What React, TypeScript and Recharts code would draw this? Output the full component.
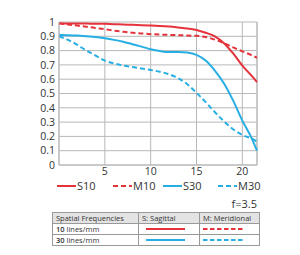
import { LineChart, Line, XAxis, YAxis, CartesianGrid, ReferenceLine } from 'recharts'

const field = [0, 1, 2, 3, 4, 5, 6, 7, 8, 9, 10, 11, 12, 13, 14, 15, 16, 17, 18, 19, 20, 21, 21.6]
const s10 = [0.99, 0.99, 0.99, 0.989, 0.988, 0.987, 0.985, 0.983, 0.98, 0.978, 0.975, 0.972, 0.968, 0.962, 0.955, 0.944, 0.925, 0.9, 0.852, 0.78, 0.695, 0.625, 0.58]
const m10 = [0.99, 0.983, 0.975, 0.967, 0.958, 0.95, 0.94, 0.932, 0.925, 0.92, 0.915, 0.912, 0.91, 0.908, 0.905, 0.903, 0.895, 0.877, 0.852, 0.822, 0.795, 0.768, 0.75]
const s30 = [0.91, 0.908, 0.905, 0.9, 0.895, 0.886, 0.875, 0.862, 0.845, 0.828, 0.81, 0.797, 0.79, 0.79, 0.786, 0.77, 0.73, 0.66, 0.57, 0.45, 0.31, 0.19, 0.1]
const m30 = [0.9, 0.875, 0.84, 0.8, 0.765, 0.73, 0.71, 0.695, 0.685, 0.675, 0.665, 0.652, 0.635, 0.607, 0.565, 0.505, 0.44, 0.37, 0.305, 0.25, 0.21, 0.185, 0.165]

const xTicks = [5, 10, 15, 20]
const yTicks = [0, 0.1, 0.2, 0.3, 0.4, 0.5, 0.6, 0.7, 0.8, 0.9, 1]
const xMax = 21.6

const RED = '#e5333b'
const BLUE = '#27aee3'
const GRID = '#b8b8b8'
const TEXT = '#333'

const series = [
  { key: 's10', name: 'S10', color: RED, dash: undefined },
  { key: 'm10', name: 'M10', color: RED, dash: '5 3' },
  { key: 's30', name: 'S30', color: BLUE, dash: undefined },
  { key: 'm30', name: 'M30', color: BLUE, dash: '5 3' },
]

const data = field.map((x, i) => ({ x, s10: s10[i], m10: m10[i], s30: s30[i], m30: m30[i] }))

const font = '"Open Sans", sans-serif'

function Swatch({ color, dash, w }: { color: string; dash?: string; w: number }) {
  return (
    <svg width={w} height={4} style={{ display: 'block' }}>
      <line x1={0} y1={2} x2={w} y2={2} stroke={color} strokeWidth={2} strokeDasharray={dash} />
    </svg>
  )
}

const legendX = [57, 113, 163, 218]

const cell: React.CSSProperties = { border: '1px solid #999', padding: '0 3px', height: 10, lineHeight: '10px' }

export default function App() {
  return (
    <div style={{ position: 'absolute', left: 0, top: 0, width: 300, height: 255, background: '#fff', fontFamily: font, color: TEXT }}>
      <LineChart width={300} height={200} data={data} margin={{ top: 22, right: 43, left: 0, bottom: 0 }}>
        <CartesianGrid stroke={GRID} strokeWidth={1} />
        <XAxis
          dataKey="x" type="number" domain={[0, xMax]} ticks={xTicks} height={35} interval={0}
          axisLine={{ stroke: GRID }} tickLine={false} tickSize={0} tickMargin={3}
          tick={{ fontSize: 10.5, fill: TEXT, fontFamily: font }}
        />
        <YAxis
          type="number" domain={[0, 1]} ticks={yTicks} width={59} interval={0}
          axisLine={{ stroke: GRID }} tickLine={false} tickSize={0} tickMargin={4}
          tick={{ fontSize: 10.5, fill: TEXT, fontFamily: font }}
          tickFormatter={(v: number) => String(+v.toFixed(1))}
        />
        <ReferenceLine x={xMax} stroke={GRID} />
        {series.map((s) => (
          <Line key={s.key} type="monotone" dataKey={s.key} stroke={s.color} strokeWidth={2}
            strokeDasharray={s.dash} dot={false} isAnimationActive={false} />
        ))}
      </LineChart>

      {series.map((s, i) => (
        <div key={s.key} style={{ position: 'absolute', left: legendX[i], top: 178, display: 'flex', alignItems: 'center', fontSize: 11 }}>
          <Swatch color={s.color} dash={s.dash} w={19} />
          <span style={{ marginLeft: 1 }}>{s.name}</span>
        </div>
      ))}

      <div style={{ position: 'absolute', right: 43, top: 196, fontSize: 11 }}>f=3.5</div>

      <table style={{ position: 'absolute', left: 52, top: 212, width: 207, borderCollapse: 'collapse', fontSize: 7.5, tableLayout: 'fixed' }}>
        <colgroup>
          <col style={{ width: 86 }} />
          <col style={{ width: 61 }} />
          <col style={{ width: 60 }} />
        </colgroup>
        <tbody>
          <tr style={{ background: '#e3e3e3' }}>
            <td style={cell}>Spatial Frequencies</td>
            <td style={cell}>S: Sagittal</td>
            <td style={cell}>M: Meridional</td>
          </tr>
          <tr>
            <td style={cell}><span style={{ fontWeight: 600 }}>10</span> lines/mm</td>
            <td style={cell}><div style={{ marginLeft: 4 }}><Swatch color={RED} w={39} /></div></td>
            <td style={cell}><Swatch color={RED} dash="4.5 2.5" w={41} /></td>
          </tr>
          <tr>
            <td style={cell}><span style={{ fontWeight: 600 }}>30</span> lines/mm</td>
            <td style={cell}><div style={{ marginLeft: 4 }}><Swatch color={BLUE} w={39} /></div></td>
            <td style={cell}><Swatch color={BLUE} dash="4.5 2.5" w={41} /></td>
          </tr>
        </tbody>
      </table>
    </div>
  )
}
